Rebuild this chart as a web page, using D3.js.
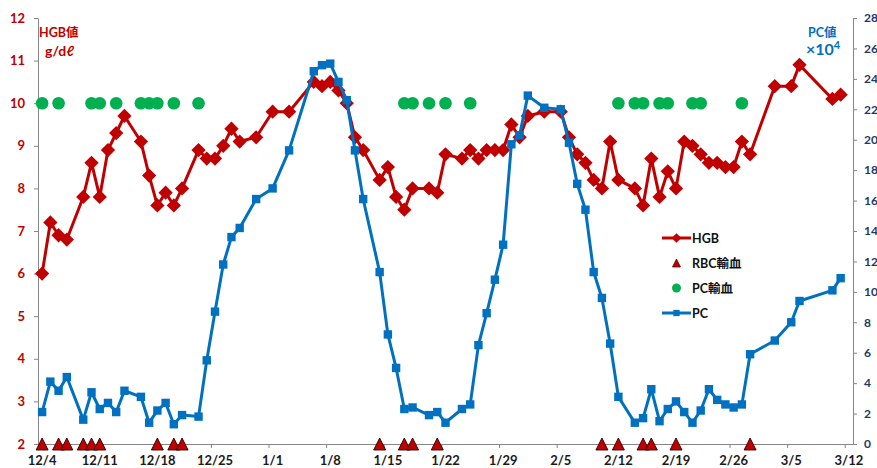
<!DOCTYPE html>
<html><head><meta charset="utf-8">
<script src="https://cdn.jsdelivr.net/npm/d3@7"></script>
<style>body{margin:0;background:#fff} svg{display:block}</style>
</head><body><svg id="c" width="877" height="468"></svg>
<script>
const dates = ["12/4","12/5","12/6","12/7","12/9","12/10","12/11","12/12","12/13","12/14","12/16","12/17","12/18","12/19","12/20","12/21","12/23","12/24","12/25","12/26","12/27","12/28","12/30","1/1","1/3","1/6","1/7","1/8","1/9","1/10","1/11","1/12","1/14","1/15","1/16","1/17","1/18","1/20","1/21","1/22","1/24","1/25","1/26","1/27","1/28","1/29","1/30","1/31","2/1","2/3","2/5","2/6","2/7","2/8","2/9","2/10","2/11","2/12","2/14","2/15","2/16","2/17","2/18","2/19","2/20","2/21","2/22","2/23","2/24","2/25","2/26","2/27","2/28","3/3","3/5","3/6","3/10","3/11"];
const hgb = [6.0,7.2,6.9,6.8,7.8,8.6,7.8,8.9,9.3,9.7,9.1,8.3,7.6,7.9,7.6,8.0,8.9,8.7,8.7,9.0,9.4,9.1,9.2,9.8,9.8,10.5,10.4,10.5,10.3,10.0,9.2,8.9,8.2,8.5,7.8,7.5,8.0,8.0,7.9,8.8,8.7,8.9,8.7,8.9,8.9,8.9,9.5,9.2,9.7,9.8,9.8,9.2,8.8,8.6,8.2,8.0,9.1,8.2,8.0,7.6,8.7,7.8,8.4,8.0,9.1,9.0,8.8,8.6,8.6,8.5,8.5,9.1,8.8,10.4,10.4,10.9,10.1,10.2];
const pc = [2.1,4.1,3.5,4.4,1.6,3.4,2.3,2.7,2.1,3.5,3.1,1.4,2.2,2.7,1.3,1.9,1.8,5.5,8.7,11.8,13.6,14.2,16.1,16.8,19.3,24.5,24.9,25.0,23.8,22.6,19.3,16.1,11.3,7.2,5.0,2.3,2.4,1.9,2.1,1.4,2.3,2.6,6.5,8.6,10.8,13.1,19.7,20.3,22.9,22.1,22.0,19.8,17.1,15.4,11.3,9.6,6.6,3.1,1.4,1.7,3.6,1.5,2.3,2.8,2.1,1.4,2.2,3.6,2.9,2.6,2.4,2.6,5.9,6.8,8.0,9.4,10.1,10.9];
const rbcDates = ["12/4","12/6","12/7","12/9","12/10","12/11","12/18","12/20","12/21","1/14","1/17","1/18","1/21","2/10","2/12","2/15","2/16","2/19","2/28"];
const pcTransDates = ["12/4","12/6","12/10","12/11","12/13","12/16","12/17","12/18","12/20","12/23","1/17","1/18","1/20","1/22","1/25","2/12","2/14","2/15","2/17","2/18","2/21","2/22","2/27"];
const rbcLevel = 2;
const pcTransLevel = 10;
const xTickLabels = ["12/4","12/11","12/18","12/25","1/1","1/8","1/15","1/22","1/29","2/5","2/12","2/19","2/26","3/5","3/12"];
const hgbTicks = [2,3,4,5,6,7,8,9,10,11,12];
const pcTicks = [0,2,4,6,8,10,12,14,16,18,20,22,24,26,28];
const legendItems = ["HGB","RBC輸血","PC輸血","PC"];

const RED = "#C00000", BLUE = "#0070C0", GREEN = "#00B050", NAVY = "#1F3864", GRAY = "#868686";
const FONT = "Lato, 'Noto Sans CJK JP', sans-serif";

function parse(s){const [m,d]=s.split('/').map(Number); return new Date(Date.UTC(m>=12?2012:2013,m-1,d));}
const x = d3.scaleUtc().domain([parse("12/4"), d3.utcDay.offset(parse("3/12"),1)]).range([38,853]);
const mid = s => x(d3.utcHour.offset(parse(s),12));
const yL = d3.scaleLinear().domain([2,12]).range([444,18]);
const yR = d3.scaleLinear().domain([0,28]).range([444,18]);

const svg = d3.select("#c").style("font-family", FONT);

// custom triangle symbol (equal width and height)
const tri = { draw(ctx, size){ const h = Math.sqrt(size); ctx.moveTo(0,-h/2); ctx.lineTo(h/2,h/2); ctx.lineTo(-h/2,h/2); ctx.closePath(); } };

// Left axis
const gL = svg.append("g").attr("transform","translate(38,0)")
  .call(d3.axisLeft(yL).tickValues(hgbTicks).tickSize(4).tickSizeOuter(0).tickPadding(9).tickFormat(d3.format("d")));
gL.select(".domain").attr("stroke",GRAY);
gL.selectAll(".tick line").attr("stroke",GRAY);
gL.selectAll(".tick text").attr("fill",RED).attr("font-size",13).attr("font-weight","bold").attr("font-family",FONT);

// Right axis
const gR = svg.append("g").attr("transform","translate(853,0)")
  .call(d3.axisRight(yR).tickValues(pcTicks).tickSize(4).tickSizeOuter(0).tickPadding(7).tickFormat(d3.format("d")));
gR.select(".domain").attr("stroke",GRAY);
gR.selectAll(".tick line").attr("stroke",GRAY);
gR.selectAll(".tick text").attr("fill",NAVY).attr("font-size",12).attr("font-weight","bold").attr("font-family",FONT);

// Bottom axis
const gB = svg.append("g").attr("transform","translate(0,444)")
  .call(d3.axisBottom(x).tickValues(xTickLabels.map(parse)).tickSize(4).tickSizeOuter(0).tickFormat(""));
gB.select(".domain").attr("stroke",GRAY);
gB.selectAll(".tick line").attr("stroke",GRAY);
svg.append("g").selectAll("text").data(xTickLabels).join("text")
  .attr("x", d=>mid(d)).attr("y",465).attr("text-anchor","middle")
  .attr("font-size",13).attr("font-weight","bold").attr("fill","#1a1a1a").text(d=>d);

// Axis titles
svg.append("text").attr("x",39).attr("y",37).attr("fill",RED).attr("font-size",12.5).attr("font-weight","bold").text("HGB値");
svg.append("text").attr("x",45).attr("y",56).attr("fill",RED).attr("font-size",14).attr("font-weight","bold").text("g/dℓ");
svg.append("text").attr("x",808).attr("y",37).attr("fill",BLUE).attr("font-size",12.5).attr("font-weight","bold").text("PC値");
const t2 = svg.append("text").attr("x",806).attr("y",55).attr("fill",BLUE).attr("font-size",16).attr("font-weight","bold");
t2.append("tspan").text("×10");
t2.append("tspan").attr("dy",-6).attr("font-size",11).text("4");

const hgbData = dates.map((d,i)=>({d, v:hgb[i]}));
const pcData = dates.map((d,i)=>({d, v:pc[i]}));

const diamond = d3.symbol().type(d3.symbolDiamond2);
const square = d3.symbol().type(d3.symbolSquare2);

// HGB
svg.append("path").datum(hgbData).attr("fill","none").attr("stroke",RED).attr("stroke-width",3).attr("stroke-linejoin","round")
  .attr("d", d3.line().x(d=>mid(d.d)).y(d=>yL(d.v)));
svg.append("g").selectAll("path").data(hgbData).join("path")
  .attr("transform", d=>`translate(${mid(d.d)},${yL(d.v)})`)
  .attr("d", diamond.size(130)).attr("fill",RED);

// RBC transfusion
svg.append("g").selectAll("path").data(rbcDates).join("path")
  .attr("transform", d=>`translate(${mid(d)},${yL(rbcLevel)})`)
  .attr("d", d3.symbol().type(tri).size(144)).attr("fill",RED).attr("stroke","#2a0000").attr("stroke-width",0.9);

// PC transfusion
svg.append("g").selectAll("circle").data(pcTransDates).join("circle")
  .attr("cx", d=>mid(d)).attr("cy", yL(pcTransLevel)).attr("r",6.3).attr("fill",GREEN);

// PC
svg.append("path").datum(pcData).attr("fill","none").attr("stroke",BLUE).attr("stroke-width",3).attr("stroke-linejoin","round")
  .attr("d", d3.line().x(d=>mid(d.d)).y(d=>yR(d.v)));
svg.append("g").selectAll("path").data(pcData).join("path")
  .attr("transform", d=>`translate(${mid(d.d)},${yR(d.v)})`)
  .attr("d", square.size(90)).attr("fill",BLUE);

// Legend
const lg = svg.append("g");
const ly = [238, 263, 288, 313];
legendItems.forEach((name,i)=>{
  const y = ly[i];
  if(i===0 || i===3){
    const c = i===0?RED:BLUE;
    lg.append("line").attr("x1",662).attr("x2",691).attr("y1",y).attr("y2",y).attr("stroke",c).attr("stroke-width",3);
    lg.append("path").attr("transform",`translate(676.5,${y})`).attr("d", (i===0?diamond.size(60):square.size(50))()).attr("fill",c);
  } else if(i===1){
    lg.append("path").attr("transform",`translate(676.5,${y})`).attr("d", d3.symbol().type(tri).size(64)()).attr("fill",RED).attr("stroke","#2a0000").attr("stroke-width",0.7);
  } else {
    lg.append("circle").attr("cx",676.5).attr("cy",y).attr("r",4.5).attr("fill",GREEN);
  }
  lg.append("text").attr("x",692).attr("y",y+4.5).attr("font-size",12.5).attr("font-weight","bold").attr("fill","#111").text(name);
});
</script></body></html>
